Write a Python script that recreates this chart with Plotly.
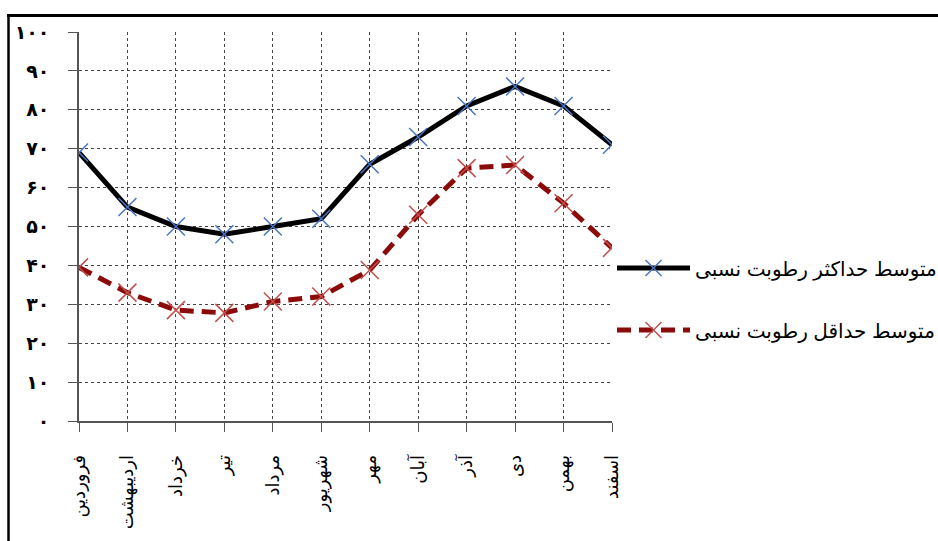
import plotly.graph_objects as go

months = ["فروردین", "اردیبهشت", "خرداد", "تیر", "مرداد", "شهریور",
          "مهر", "آبان", "آذر", "دی", "بهمن", "اسفند"]
max_rh = [69, 55, 50, 48, 50, 52, 66, 73, 81, 86, 81, 71]
min_rh = [39.5, 33, 28.5, 27.8, 30.7, 32, 38.8, 53, 65, 65.8, 56, 44.5]
max_name = "متوسط حداکثر رطوبت نسبی"
min_name = "متوسط حداقل رطوبت نسبی"
y_vals = [0, 10, 20, 30, 40, 50, 60, 70, 80, 90, 100]
y_text = ["۰", "۱۰", "۲۰", "۳۰", "۴۰", "۵۰", "۶۰", "۷۰", "۸۰", "۹۰", "۱۰۰"]

W, H = 938, 541
L, R, T, B = 79, 612, 32, 421


def px_x(p):
    return (p - L) / (R - L)


def px_y(p):
    return (B - p) / (B - T)


fig = go.Figure()
fig.add_trace(go.Scatter(
    x=list(range(len(months))), y=max_rh, name=max_name, mode="lines+markers",
    line=dict(color="#000000", width=5),
    marker=dict(symbol="x-thin", size=18, line=dict(color="#4a74c4", width=1.5)),
    legend="legend",
))
fig.add_trace(go.Scatter(
    x=list(range(len(months))), y=min_rh, name=min_name, mode="lines+markers",
    line=dict(color="#8b0a0a", width=5, dash="14px,8px"),
    marker=dict(symbol="x-thin", size=18, line=dict(color="#c0504d", width=1.5)),
    legend="legend2",
))

fig.update_layout(
    width=W, height=H,
    margin=dict(l=L, r=W - R, t=T, b=H - B, pad=0, autoexpand=False),
    paper_bgcolor="white", plot_bgcolor="white",
    font=dict(family="Liberation Sans, DejaVu Sans, sans-serif", color="black"),
    legend=dict(x=px_x(612), y=px_y(268), xanchor="left", yanchor="middle",
                itemwidth=73, font=dict(size=20), bgcolor="rgba(0,0,0,0)"),
    legend2=dict(x=px_x(612), y=px_y(330), xanchor="left", yanchor="middle",
                 itemwidth=73, font=dict(size=20), bgcolor="rgba(0,0,0,0)"),
    showlegend=True,
)
fig.update_xaxes(
    range=[0, len(months) - 1], tickmode="array",
    tickvals=list(range(len(months))), ticktext=months,
    tickangle=-90, ticks="outside", ticklen=9, tickcolor="#555",
    showline=True, linecolor="#555", linewidth=1.5,
    showgrid=True, gridcolor="#444", griddash="dot", gridwidth=1,
    zeroline=False, tickfont=dict(size=18, family="DejaVu Sans"),
    ticklabelstandoff=16, automargin=False,
)
fig.update_yaxes(
    range=[0, 100], tickmode="array", tickvals=y_vals, ticktext=y_text,
    ticks="outside", ticklen=9, tickcolor="#555",
    showline=True, linecolor="#555", linewidth=1.5,
    showgrid=True, gridcolor="#444", griddash="dot", gridwidth=1,
    zeroline=False, tickfont=dict(size=19, family="DejaVu Sans", weight="bold"),
    ticklabelstandoff=15, automargin=False,
)
fig.add_shape(type="line", xref="paper", yref="paper",
              x0=px_x(7), x1=px_x(W + 5), y0=px_y(15.5), y1=px_y(15.5),
              line=dict(color="black", width=3))
fig.add_shape(type="line", xref="paper", yref="paper",
              x0=px_x(8.5), x1=px_x(8.5), y0=px_y(14), y1=px_y(H + 5),
              line=dict(color="black", width=2.5))

fig.write_html("out.html", config={"displayModeBar": False},
               post_script="document.body.style.margin='0';document.body.style.overflow='hidden';")
